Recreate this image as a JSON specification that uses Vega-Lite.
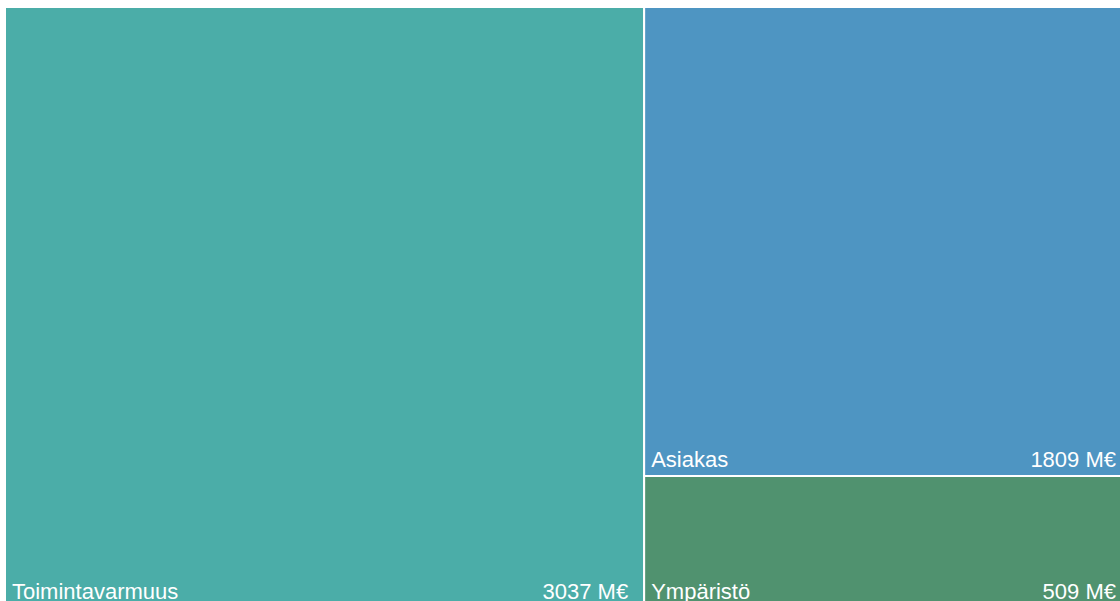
{
  "$schema": "https://vega.github.io/schema/vega-lite/v6.json",
  "autosize": "none",
  "width": 1127,
  "height": 601,
  "padding": {"left": 5, "top": 7, "right": 0, "bottom": 0},
  "background": "white",
  "config": {"view": {"stroke": null}},
  "data": {
    "values": [
      {"name": "Toimintavarmuus", "value": 3037, "column": 1},
      {"name": "Asiakas", "value": 1809, "column": 2},
      {"name": "Ympäristö", "value": 509, "column": 2}
    ]
  },
  "transform": [
    {"stack": "value", "groupby": [], "sort": [{"field": "column", "order": "ascending"}, {"field": "value", "order": "descending"}], "as": ["sx0", "sx1"]},
    {"joinaggregate": [{"op": "min", "field": "sx0", "as": "cx0"}, {"op": "max", "field": "sx1", "as": "cx1"}], "groupby": ["column"]},
    {"stack": "value", "groupby": ["column"], "offset": "normalize", "sort": [{"field": "value", "order": "ascending"}], "as": ["sy0", "sy1"]},
    {"calculate": "datum.value + ' M€'", "as": "label"}
  ],
  "encoding": {
    "x": {"field": "cx0", "type": "quantitative", "scale": {"domain": [0, 5355], "nice": false, "zero": false}, "axis": null},
    "y": {"field": "sy0", "type": "quantitative", "scale": {"domain": [0, 1], "nice": false}, "axis": null}
  },
  "layer": [
    {
      "mark": {"type": "rect", "stroke": "white", "strokeWidth": 2},
      "encoding": {
        "x2": {"field": "cx1"},
        "y2": {"field": "sy1"},
        "color": {
          "field": "name",
          "type": "nominal",
          "scale": {"domain": ["Toimintavarmuus", "Asiakas", "Ympäristö"], "range": ["#4BADA8", "#4E95C2", "#50926F"]},
          "legend": null
        }
      }
    },
    {
      "mark": {"type": "text", "align": "left", "baseline": "alphabetic", "dx": 7, "dy": -9, "font": "Liberation Sans", "fontSize": 22, "color": "white"},
      "encoding": {"text": {"field": "name"}}
    },
    {
      "mark": {"type": "text", "align": "right", "baseline": "alphabetic", "dx": -16, "dy": -9, "font": "Liberation Sans", "fontSize": 22, "color": "white"},
      "encoding": {"x": {"field": "cx1", "type": "quantitative"}, "text": {"field": "label"}}
    }
  ]
}
